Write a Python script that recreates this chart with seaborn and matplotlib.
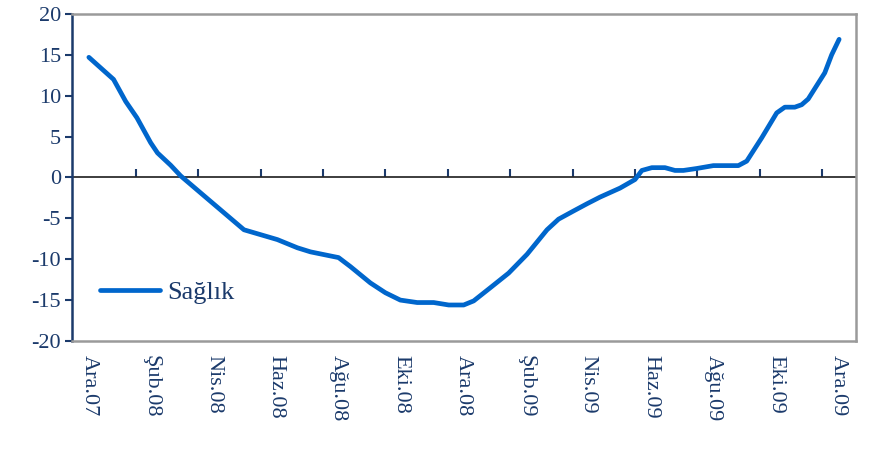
import matplotlib
matplotlib.use("Agg")
import matplotlib.pyplot as plt
import seaborn as sns
import pandas as pd

# Months elapsed since Ara.07 and index value
months = [0.00, 0.38, 0.79, 1.18, 1.54, 1.98, 2.20, 2.62, 2.94, 3.80, 4.97,
          6.04, 6.68, 7.10, 7.74, 8.00, 8.38, 9.02, 9.50, 9.98, 10.52, 11.05,
          11.53, 12.01, 12.33, 12.86, 13.45, 14.04, 14.68, 15.05, 15.53, 15.97,
          16.38, 17.02, 17.50, 17.72, 18.04, 18.46, 18.78, 19.05, 19.48, 20.01,
          20.81, 21.08, 21.56, 22.04, 22.30, 22.62, 22.84, 23.05, 23.58, 23.80,
          24.04]
saglik = [14.7, 13.4, 12.0, 9.3, 7.3, 4.25, 3.0, 1.5, 0.2, -2.6, -6.4,
          -7.6, -8.6, -9.1, -9.6, -9.8, -10.9, -12.9, -14.1, -15.0, -15.3, -15.3,
          -15.6, -15.6, -15.1, -13.5, -11.7, -9.4, -6.4, -5.1, -4.1, -3.2,
          -2.4, -1.3, -0.25, 0.86, 1.2, 1.2, 0.86, 0.86, 1.1, 1.45,
          1.45, 2.0, 4.85, 7.9, 8.6, 8.6, 8.9, 9.6, 12.8, 15.0,
          16.9]
tick_labels = ["Ara.07", "Şub.08", "Nis.08", "Haz.08", "Ağu.08", "Eki.08", "Ara.08",
               "Şub.09", "Nis.09", "Haz.09", "Ağu.09", "Eki.09", "Ara.09"]
yticks = [-20, -15, -10, -5, 0, 5, 10, 15, 20]

sns.set_theme(style="white")
plt.rcParams["font.family"] = ["Liberation Serif", "DejaVu Serif"]

navy = "#1b3a6b"
gray = "#9a9a9a"
blue = "#0066cc"

df = pd.DataFrame({"ay": months, "Sağlık": saglik})

fig = plt.figure(figsize=(8.73, 4.51), dpi=100)
ax = fig.add_axes([0.0825, 0.244, 0.898, 0.725])
sns.lineplot(data=df, x="ay", y="Sağlık", ax=ax, color=blue, linewidth=3.4,
             label="Sağlık", solid_capstyle="round")

ax.set_xlim(-0.54, 24.58)
ax.set_ylim(-20, 20)
ax.set_xlabel("")
ax.set_ylabel("")

label_pos = [2 * i for i in range(len(tick_labels))]
ax.set_xticks(label_pos)
ax.set_xticklabels(tick_labels, rotation=270, fontsize=16, color=navy)
ax.tick_params(axis="x", length=0, pad=10)

ax.set_yticks(yticks)
ax.set_yticklabels([str(v) for v in yticks], fontsize=16, color=navy)
ax.tick_params(axis="y", direction="out", length=5, width=1.5, color=navy,
               left=True, pad=3)

for side in ["top", "right", "bottom"]:
    ax.spines[side].set_color(gray)
    ax.spines[side].set_linewidth(1.8)
ax.spines["left"].set_color(navy)
ax.spines["left"].set_linewidth(1.8)

# zero axis with tick marks between label groups
sec = ax.secondary_xaxis(0.5)
sec.set_xticks([2 * i + 1.5 for i in range(12)])
sec.set_xticklabels([])
sec.tick_params(axis="x", direction="out", length=6, width=1.5, color=navy)
sec.spines["bottom"].set_color(navy)
sec.spines["bottom"].set_linewidth(1.8)

leg = ax.legend(loc="lower left", bbox_to_anchor=(0.005, 0.04), frameon=False,
                fontsize=19, handlelength=2.3, handletextpad=0.25)
for t in leg.get_texts():
    t.set_color(navy)

fig.savefig("out.png", dpi=100)
